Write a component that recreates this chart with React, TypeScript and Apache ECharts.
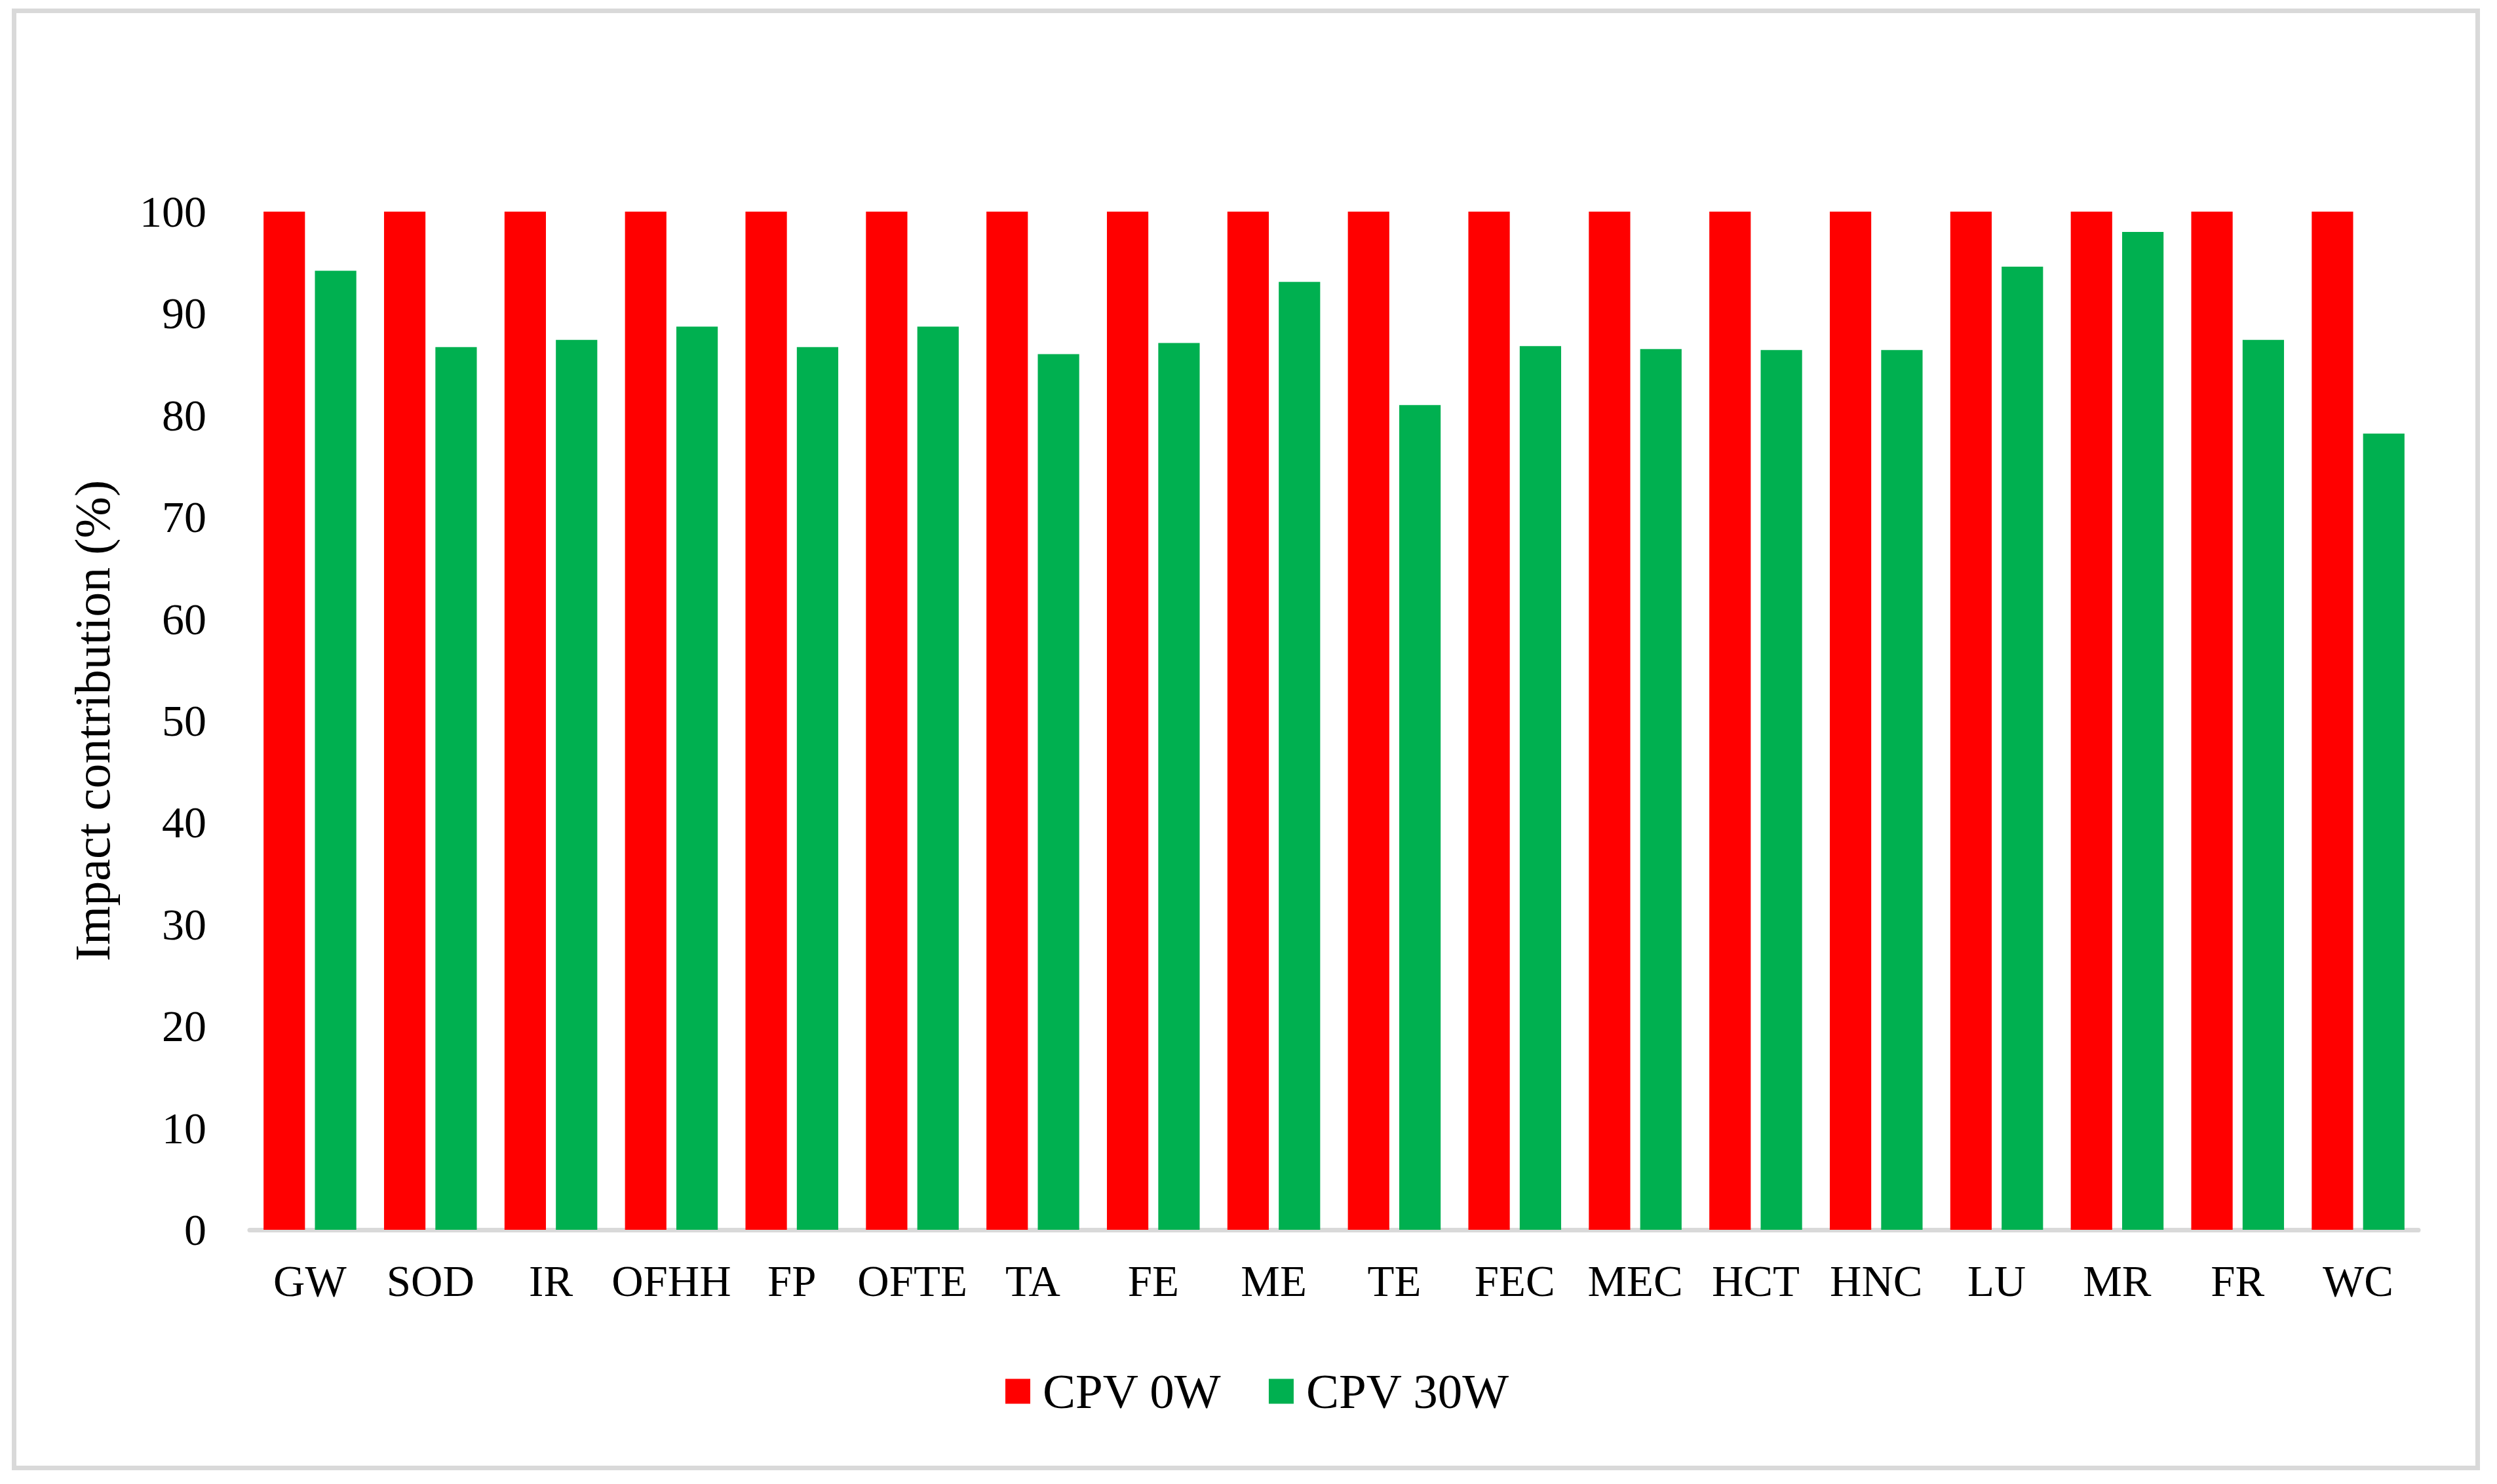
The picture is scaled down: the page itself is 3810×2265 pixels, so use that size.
import React, { useEffect, useRef } from "react";
import * as echarts from "echarts";

const categories = ["GW", "SOD", "IR", "OFHH", "FP", "OFTE", "TA", "FE", "ME", "TE", "FEC", "MEC", "HCT", "HNC", "LU", "MR", "FR", "WC"];
const seriesNames = ["CPV 0W", "CPV 30W"];
const cpv0W = [100, 100, 100, 100, 100, 100, 100, 100, 100, 100, 100, 100, 100, 100, 100, 100, 100, 100];
const cpv30W = [94.2, 86.7, 87.4, 88.7, 86.7, 88.7, 86.0, 87.1, 93.1, 81.0, 86.8, 86.5, 86.4, 86.4, 94.6, 98.0, 87.4, 78.2];
const yTicks = { min: 0, max: 100, interval: 10 };
const yTitle = "Impact contribution (%)";

const FONT = '"Liberation Serif", "Times New Roman", serif';

export default function App() {
  const ref = useRef<HTMLDivElement>(null);
  useEffect(() => {
    document.body.style.margin = "0";
    const chart = echarts.init(ref.current!, null, { renderer: "svg" });
    chart.setOption({
      animation: false,
      backgroundColor: "#ffffff",
      textStyle: { fontFamily: FONT, color: "#000" },
      graphic: [
        {
          type: "rect",
          shape: { x: 21.5, y: 16.5, width: 3759, height: 2224 },
          style: { fill: "none", stroke: "#d9d9d9", lineWidth: 7 },
          silent: true,
        },
      ],
      grid: { left: 381, right: 120, top: 323, bottom: 388, containLabel: false },
      legend: {
        data: seriesNames,
        left: 1534,
        top: 2086,
        padding: 0,
        itemWidth: 38,
        itemHeight: 38,
        itemGap: 72,
        icon: "rect",
        textStyle: { fontFamily: FONT, fontSize: 75, color: "#000", padding: [0, 0, 0, 14] },
      },
      xAxis: {
        type: "category",
        data: categories,
        axisLine: { lineStyle: { color: "#d9d9d9", width: 7 } },
        axisTick: { show: false },
        axisLabel: { fontFamily: FONT, fontSize: 67, color: "#000", margin: 44, interval: 0 },
      },
      yAxis: {
        type: "value",
        min: yTicks.min,
        max: yTicks.max,
        interval: yTicks.interval,
        name: yTitle,
        nameLocation: "middle",
        nameGap: 202,
        nameRotate: 90,
        nameTextStyle: { fontFamily: FONT, fontSize: 76, color: "#000" },
        axisLine: { show: false },
        axisTick: { show: false },
        splitLine: { show: false },
        axisLabel: { fontFamily: FONT, fontSize: 68, color: "#000", margin: 66 },
      },
      series: [
        {
          name: seriesNames[0],
          type: "bar",
          data: cpv0W,
          itemStyle: { color: "#ff0000" },
          barGap: "24%",
          barCategoryGap: "23%",
        },
        {
          name: seriesNames[1],
          type: "bar",
          data: cpv30W,
          itemStyle: { color: "#00b050" },
          barGap: "24%",
          barCategoryGap: "23%",
        },
      ],
    });
    return () => chart.dispose();
  }, []);
  return <div ref={ref} style={{ position: "absolute", left: 0, top: 0, width: 3810, height: 2265 }} />;
}
